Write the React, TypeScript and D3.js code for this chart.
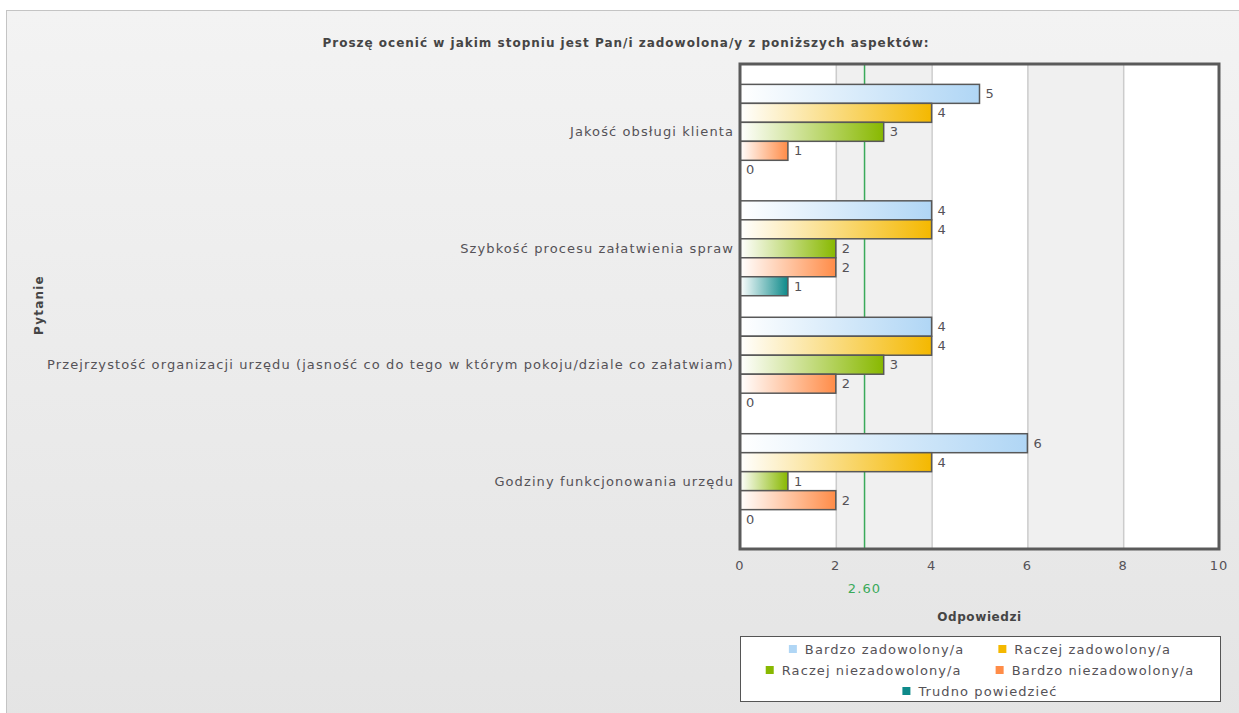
import { useEffect, useRef } from "react";
import * as d3 from "d3";

const title = "Proszę ocenić w jakim stopniu jest Pan/i zadowolona/y z poniższych aspektów:";
const questions = [
  "Jakość obsługi klienta",
  "Szybkość procesu załatwienia spraw",
  "Przejrzystość organizacji urzędu (jasność co do tego w którym pokoju/dziale co załatwiam)",
  "Godziny funkcjonowania urzędu",
];
const seriesNames = [
  "Bardzo zadowolony/a",
  "Raczej zadowolony/a",
  "Raczej niezadowolony/a",
  "Bardzo niezadowolony/a",
  "Trudno powiedzieć",
];
const seriesColors = ["#b0d6f5", "#f4b800", "#88b800", "#ff8c48", "#0e8a8a"];
// values per question, one per series
const bardzoZad = [5, 4, 4, 6];
const raczejZad = [4, 4, 4, 4];
const raczejNiezad = [3, 2, 3, 1];
const bardzoNiezad = [1, 2, 2, 2];
const trudno = [0, 1, 0, 0];
const seriesValues = [bardzoZad, raczejZad, raczejNiezad, bardzoNiezad, trudno];
const xTicks = [0, 2, 4, 6, 8, 10];
const meanValue = 2.6;

const FONT = "DejaVu Sans, Verdana, sans-serif";
const TXT = "#555257";

export default function App() {
  const svgRef = useRef<SVGSVGElement>(null);

  useEffect(() => {
    if (!svgRef.current) return;
    const svg = d3.select(svgRef.current);
    svg.selectAll("*").remove();
    const W = 1239, H = 713;
    const plot = { left: 740, right: 1219, top: 64, bottom: 549 };

    const label = (sel: any, size = 13, spacing = 1.1) =>
      sel.attr("font-family", FONT).attr("font-size", size)
        .attr("letter-spacing", spacing).attr("fill", TXT);

    const defs = svg.append("defs");
    const bg = defs.append("linearGradient").attr("id", "bg").attr("x1", 0).attr("y1", 0).attr("x2", 0).attr("y2", 1);
    bg.append("stop").attr("offset", "0%").attr("stop-color", "#f3f3f3");
    bg.append("stop").attr("offset", "100%").attr("stop-color", "#e4e4e4");
    seriesColors.forEach((c, i) => {
      const g = defs.append("linearGradient").attr("id", `bar${i}`).attr("x1", 0).attr("y1", 0).attr("x2", 1).attr("y2", 0);
      g.append("stop").attr("offset", "0%").attr("stop-color", "#ffffff");
      g.append("stop").attr("offset", "100%").attr("stop-color", c);
    });

    // panel
    svg.append("rect").attr("x", 6.5).attr("y", 10.5).attr("width", W).attr("height", H)
      .attr("fill", "url(#bg)").attr("stroke", "#c4c4c4").attr("stroke-width", 1);

    const x = d3.scaleLinear().domain([0, 10]).range([plot.left, plot.right]);
    const y0 = d3.scaleBand<string>().domain(questions).range([plot.top, plot.bottom])
      .paddingInner(0.185).paddingOuter(0.175);
    const y1 = d3.scaleBand<number>().domain(d3.range(seriesNames.length)).range([0, y0.bandwidth()]);

    // plot background with alternating bands
    svg.append("rect").attr("x", plot.left).attr("y", plot.top)
      .attr("width", plot.right - plot.left).attr("height", plot.bottom - plot.top).attr("fill", "#ffffff");
    for (let i = 0; i < xTicks.length - 1; i++) {
      if (i % 2 === 1) {
        svg.append("rect").attr("x", x(xTicks[i])).attr("y", plot.top)
          .attr("width", x(xTicks[i + 1]) - x(xTicks[i])).attr("height", plot.bottom - plot.top)
          .attr("fill", "#f0f0f0");
      }
    }
    svg.selectAll("line.grid").data(xTicks.slice(1, -1)).enter().append("line")
      .attr("x1", d => x(d) + 0.5).attr("x2", d => x(d) + 0.5)
      .attr("y1", plot.top).attr("y2", plot.bottom)
      .attr("stroke", "#cccccc").attr("stroke-width", 1.5);

    // mean line
    svg.append("line").attr("x1", x(meanValue)).attr("x2", x(meanValue))
      .attr("y1", plot.top).attr("y2", plot.bottom)
      .attr("stroke", "#3aaa5a").attr("stroke-width", 1.5);

    // bars
    questions.forEach((q, qi) => {
      seriesValues.forEach((vals, si) => {
        const v = vals[qi];
        const by = (y0(q) ?? 0) + (y1(si) ?? 0);
        const bh = y1.bandwidth();
        if (v > 0) {
          svg.append("rect").attr("x", x(0)).attr("y", by)
            .attr("width", x(v) - x(0)).attr("height", bh)
            .attr("fill", `url(#bar${si})`).attr("stroke", "#585858").attr("stroke-width", 1.5);
        }
        label(svg.append("text").attr("x", x(v) + 6).attr("y", by + bh / 2).attr("dy", "0.35em")).text(v);
      });
      label(svg.append("text").attr("x", plot.left - 6).attr("y", (y0(q) ?? 0) + y0.bandwidth() / 2)
        .attr("dy", "0.35em").attr("text-anchor", "end")).text(q);
    });

    // plot frame
    svg.append("rect").attr("x", plot.left).attr("y", plot.top)
      .attr("width", plot.right - plot.left).attr("height", plot.bottom - plot.top)
      .attr("fill", "none").attr("stroke", "#5a5a5a").attr("stroke-width", 3);

    // x ticks
    xTicks.forEach(t => {
      label(svg.append("text").attr("x", x(t)).attr("y", 570).attr("text-anchor", "middle")).text(t);
    });
    label(svg.append("text").attr("x", x(meanValue)).attr("y", 593).attr("text-anchor", "middle"))
      .attr("fill", "#3aaa5a").text(meanValue.toFixed(2));

    // titles
    label(svg.append("text").attr("x", 626).attr("y", 47).attr("text-anchor", "middle"), 12, 1)
      .attr("font-weight", "bold").attr("fill", "#454545").text(title);
    label(svg.append("text").attr("x", (plot.left + plot.right) / 2).attr("y", 621).attr("text-anchor", "middle"), 12, 0.6)
      .attr("font-weight", "bold").attr("fill", "#454545").text("Odpowiedzi");
    label(svg.append("text").attr("transform", "translate(43,305) rotate(-90)").attr("text-anchor", "middle"), 12, 1.2)
      .attr("font-weight", "bold").attr("fill", "#454545").text("Pytanie");

    // legend
    svg.append("rect").attr("x", 740.5).attr("y", 636.5).attr("width", 480).attr("height", 65)
      .attr("fill", "#ffffff").attr("stroke", "#555").attr("stroke-width", 1);
    const rows = [[0, 1], [2, 3], [4]];
    const legendCx = 980;
    rows.forEach((row, ri) => {
      const ly = 649 + ri * 21;
      const gap = 34;
      const items = row.map(si => {
        const g = svg.append("g");
        g.append("rect").attr("x", 0).attr("y", ly - 4).attr("width", 8).attr("height", 8)
          .attr("fill", seriesColors[si]);
        const t = label(g.append("text").attr("x", 16).attr("y", ly).attr("dy", "0.35em")).text(seriesNames[si]);
        const w = 16 + (t.node() as SVGTextElement).getComputedTextLength();
        return { g, w };
      });
      const total = d3.sum(items, d => d.w) + gap * (items.length - 1);
      let cx = legendCx - total / 2;
      items.forEach(it => {
        it.g.attr("transform", `translate(${cx},0)`);
        cx += it.w + gap;
      });
    });
  }, []);

  return (
    <svg ref={svgRef} width={1239} height={713}
      style={{ position: "absolute", left: 0, top: 0, display: "block" }} />
  );
}
